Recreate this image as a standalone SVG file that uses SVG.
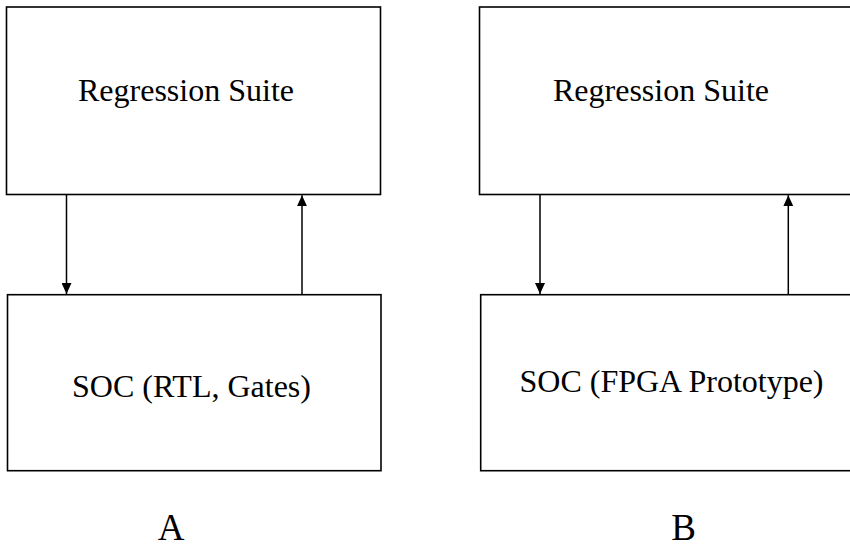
<svg xmlns="http://www.w3.org/2000/svg" width="850" height="549" viewBox="0 0 850 549">
<style>
.box{fill:#fff;stroke:#000;stroke-width:1.6}
.lbl{font-family:"Liberation Serif","Times New Roman",serif;font-size:32px;fill:#000;text-anchor:middle}
.big{font-family:"Liberation Serif","Times New Roman",serif;font-size:37px;fill:#000;text-anchor:middle}
.conn{stroke:#000;stroke-width:1.5;fill:none;marker-end:url(#ah)}
</style>
<defs>
<marker id="ah" markerUnits="userSpaceOnUse" markerWidth="11" markerHeight="10" refX="11" refY="5" orient="auto" viewBox="0 0 11 10">
<path d="M0,0 L11,5 L0,10 z" fill="#000"/>
</marker>
</defs>
<rect width="850" height="549" fill="#fff"/>
<g id="regA">
<rect class="box" x="6.5" y="7" width="374" height="187.5"/>
<text class="lbl" x="186" y="101">Regression Suite</text>
</g>
<g id="socA">
<rect class="box" x="7.5" y="294.7" width="373.5" height="176"/>
<text class="lbl" x="191.5" y="397">SOC (RTL, Gates)</text>
</g>
<g id="regB">
<rect class="box" x="479.5" y="7" width="380" height="187.5"/>
<text class="lbl" x="661" y="101">Regression Suite</text>
</g>
<g id="socB">
<rect class="box" x="480.7" y="294.7" width="380" height="176"/>
<text class="lbl" x="671.5" y="391.5">SOC (FPGA Prototype)</text>
</g>
<g id="labelA"><text class="big" x="171" y="540">A</text></g>
<g id="labelB"><text class="big" x="683.5" y="540">B</text></g>
<g id="connectors">
<line class="conn" x1="66.5" y1="194.5" x2="66.5" y2="294"/>
<line class="conn" x1="302" y1="294.7" x2="302" y2="195.2"/>
<line class="conn" x1="540" y1="194.5" x2="540" y2="294"/>
<line class="conn" x1="788.3" y1="294.7" x2="788.3" y2="195.2"/>
</g>
</svg>
